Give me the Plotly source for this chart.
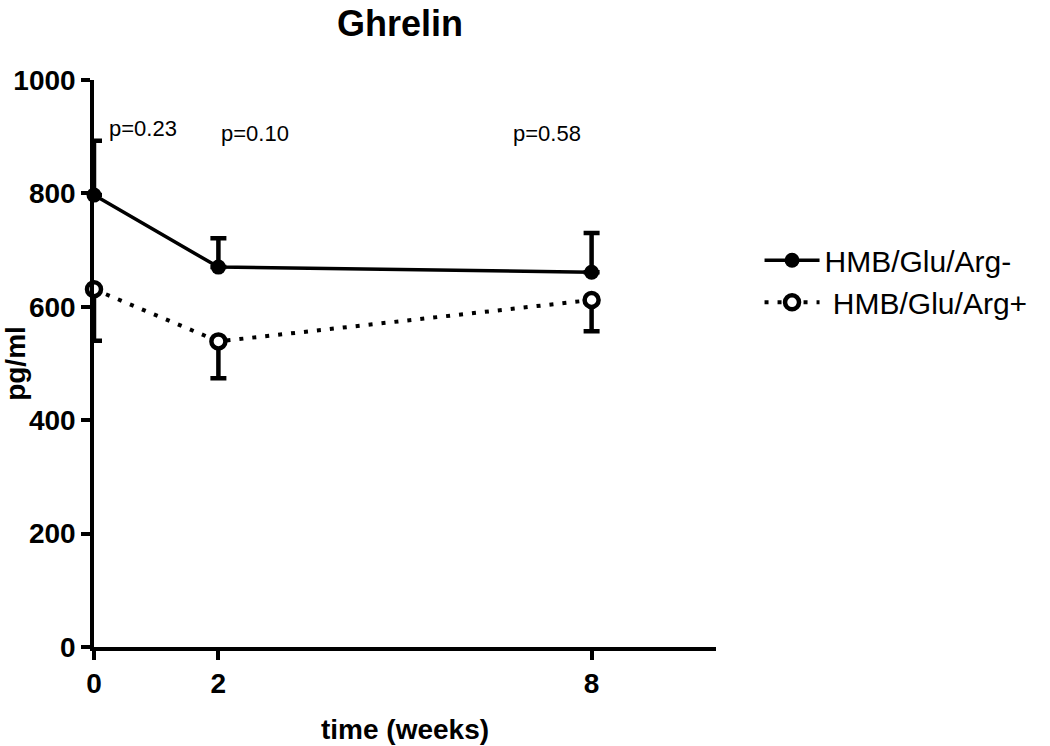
import plotly.graph_objects as go

weeks = [0, 2, 8]
neg_mean = [797, 670, 661]
neg_err_up = [96, 51, 69]
pos_mean = [631, 539, 612]
pos_err_down = [91, 65, 55]

p_labels = ["p=0.23", "p=0.10", "p=0.58"]
p_x = [0.79, 2.59, 7.28]
p_y = [915, 905, 905]

x_ticks = [0, 2, 8]
y_ticks = [0, 200, 400, 600, 800, 1000]

FONT = "Liberation Sans, Arial, sans-serif"

fig = go.Figure()

fig.add_trace(go.Scatter(
    x=weeks, y=neg_mean, name="HMB/Glu/Arg-", mode="lines+markers",
    line=dict(color="black", width=3.5),
    marker=dict(symbol="circle", size=15, color="black"),
    error_y=dict(type="data", array=neg_err_up, arrayminus=[0, 0, 0], symmetric=False,
                 color="black", thickness=4.5, width=8),
    cliponaxis=False,
))

fig.add_trace(go.Scatter(
    x=weeks, y=pos_mean, name=" HMB/Glu/Arg+", mode="lines+markers",
    line=dict(color="black", width=4, dash="4px,9px"),
    marker=dict(symbol="circle", size=14, color="white", line=dict(color="black", width=4.5)),
    error_y=dict(type="data", array=[0, 0, 0], arrayminus=pos_err_down, symmetric=False,
                 color="black", thickness=4.5, width=8),
    cliponaxis=False,
))

for t, xx, yy in zip(p_labels, p_x, p_y):
    fig.add_annotation(x=xx, y=yy, text=t, showarrow=False,
                       font=dict(family=FONT, size=22, color="black"))

fig.update_layout(
    width=1050, height=746,
    paper_bgcolor="white", plot_bgcolor="white",
    margin=dict(l=94, r=334, t=80, b=99, autoexpand=False),
    title=dict(text="<b>Ghrelin</b>", x=400 / 1050, xanchor="center", y=0.986, yanchor="top",
               font=dict(family=FONT, size=36, color="black")),
    showlegend=True,
    legend=dict(x=1.07, y=0.645, xanchor="left", yanchor="middle",
                font=dict(family=FONT, size=30, color="black"),
                bgcolor="rgba(0,0,0,0)", itemwidth=55, tracegroupgap=0),
    font=dict(family=FONT, color="black"),
)

fig.update_xaxes(
    range=[0, 10], tickvals=x_ticks, ticktext=[str(v) for v in x_ticks],
    showline=True, linecolor="black", linewidth=3.5, automargin=False,
    ticks="outside", ticklen=9, tickwidth=3.5, tickcolor="black",
    showgrid=False, zeroline=False,
    tickfont=dict(family=FONT, size=28, color="black", weight="bold"),
    title=dict(text="<b>time (weeks)</b>", font=dict(family=FONT, size=28, color="black"), standoff=22),
)
fig.update_yaxes(
    range=[0, 1000], tickvals=y_ticks,
    showline=True, linecolor="black", linewidth=3.5, automargin=False,
    ticks="outside", ticklen=9, tickwidth=3.5, tickcolor="black",
    showgrid=False, zeroline=False,
    tickfont=dict(family=FONT, size=28, color="black", weight="bold"),
    title=dict(text="<b>pg/ml</b>", font=dict(family=FONT, size=28, color="black"), standoff=16),
)

fig.write_html("out.html", config={"displayModeBar": False},
               post_script="document.body.style.margin='0px';")
